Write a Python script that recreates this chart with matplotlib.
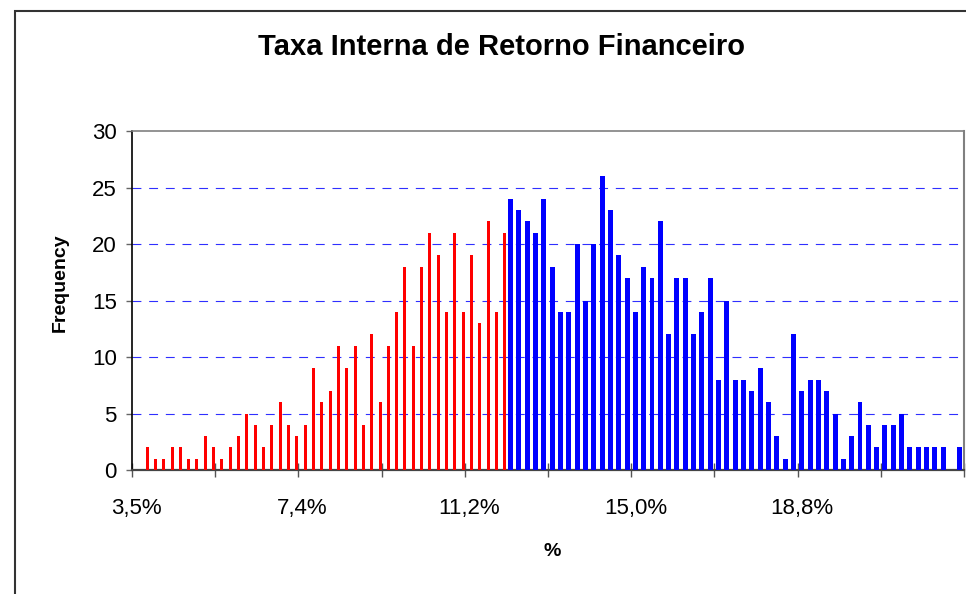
import matplotlib
matplotlib.use("Agg")
import matplotlib.pyplot as plt
from matplotlib.patches import Rectangle
import numpy as np

plt.rcParams['font.family'] = ['Liberation Sans', 'DejaVu Sans']

# Frequencies per bin (category 0 is empty)
red_values = [2, 1, 1, 2, 2, 1, 1, 3, 2, 1, 2, 3, 5, 4, 2, 4, 6, 4, 3, 4,
              9, 6, 7, 11, 9, 11, 4, 12, 6, 11, 14, 18, 11, 18, 21, 19, 14, 21,
              14, 19, 13, 22, 14, 21]
blue_values = [24, 23, 22, 21, 24, 18, 14, 14, 20, 15, 20, 26, 23, 19, 17, 14,
               18, 17, 22, 12, 17, 17, 12, 14, 17, 8, 15,
               8, 8, 7, 9, 6, 3, 1, 12, 7, 8, 8, 7, 5, 1, 3, 6, 4, 2, 4, 4, 5,
               2, 2, 2, 2, 2, 0, 2]
n_categories = 100
red_start = 1
blue_start = red_start + len(red_values)
tick_labels = ['3,5%', '7,4%', '11,2%', '15,0%', '18,8%']
label_positions = [0, 20, 40, 60, 80]

W, H = 966, 594
fig = plt.figure(figsize=(W / 100, H / 100), dpi=100)
fig.patch.set_facecolor('white')

# outer chart frame
fig.patches.append(Rectangle((15 / W, -0.05), 1.2, (H - 11) / H + 0.05,
                             transform=fig.transFigure, fill=False,
                             edgecolor='#333333', linewidth=1.5))

left, right, top, bottom = 132, 964, 131, 470
ax = fig.add_axes([left / W, (H - bottom) / H, (right - left) / W, (bottom - top) / H])

red_x = np.arange(red_start, red_start + len(red_values))
blue_x = np.arange(blue_start, blue_start + len(blue_values))
ax.bar(red_x + 0.31, red_values, width=0.36, color='#FF0000', zorder=3)
ax.bar(blue_x, blue_values, width=0.6, color='#0000FF', zorder=3)

ax.set_xlim(-0.5, n_categories - 0.5)
ax.set_ylim(0, 30)

# gridlines
for yv in range(5, 30, 5):
    ax.axhline(yv, color='#2F2FFF', linewidth=0.8, linestyle=(0, (8, 7)), zorder=1)

ax.set_yticks(range(0, 31, 5))
ax.tick_params(axis='y', direction='out', length=4, width=1, color='#666666',
               labelsize=16, pad=7)

ax.set_xticks(np.arange(-0.5, n_categories, 10))
ax.set_xticklabels([])
ax.tick_params(axis='x', which='major', direction='inout', length=10, width=1,
               color='#555555')
ax.set_xticks(label_positions, minor=True)
ax.set_xticklabels(tick_labels, minor=True)
ax.tick_params(axis='x', which='minor', length=0, labelsize=16, pad=20)

for s in ['left']:
    ax.spines[s].set_color('black')
    ax.spines[s].set_linewidth(1.2)
ax.spines['bottom'].set_color('#444444')
ax.spines['bottom'].set_linewidth(1.6)
ax.spines['top'].set_color('#808080')
ax.spines['top'].set_linewidth(1.2)
ax.spines['right'].set_color('#808080')
ax.spines['right'].set_linewidth(1.5)

fig.text(501 / W, 1 - 47 / H, 'Taxa Interna de Retorno Financeiro',
         ha='center', va='center', fontsize=21, fontweight='bold')
fig.text(60 / W, 1 - 283 / H, 'Frequency', ha='center', va='center',
         rotation=90, fontsize=14, fontweight='bold')
fig.text(552 / W, 1 - 552 / H, '%', ha='center', va='center',
         fontsize=14, fontweight='bold')

fig.savefig('out.png', dpi=100)
